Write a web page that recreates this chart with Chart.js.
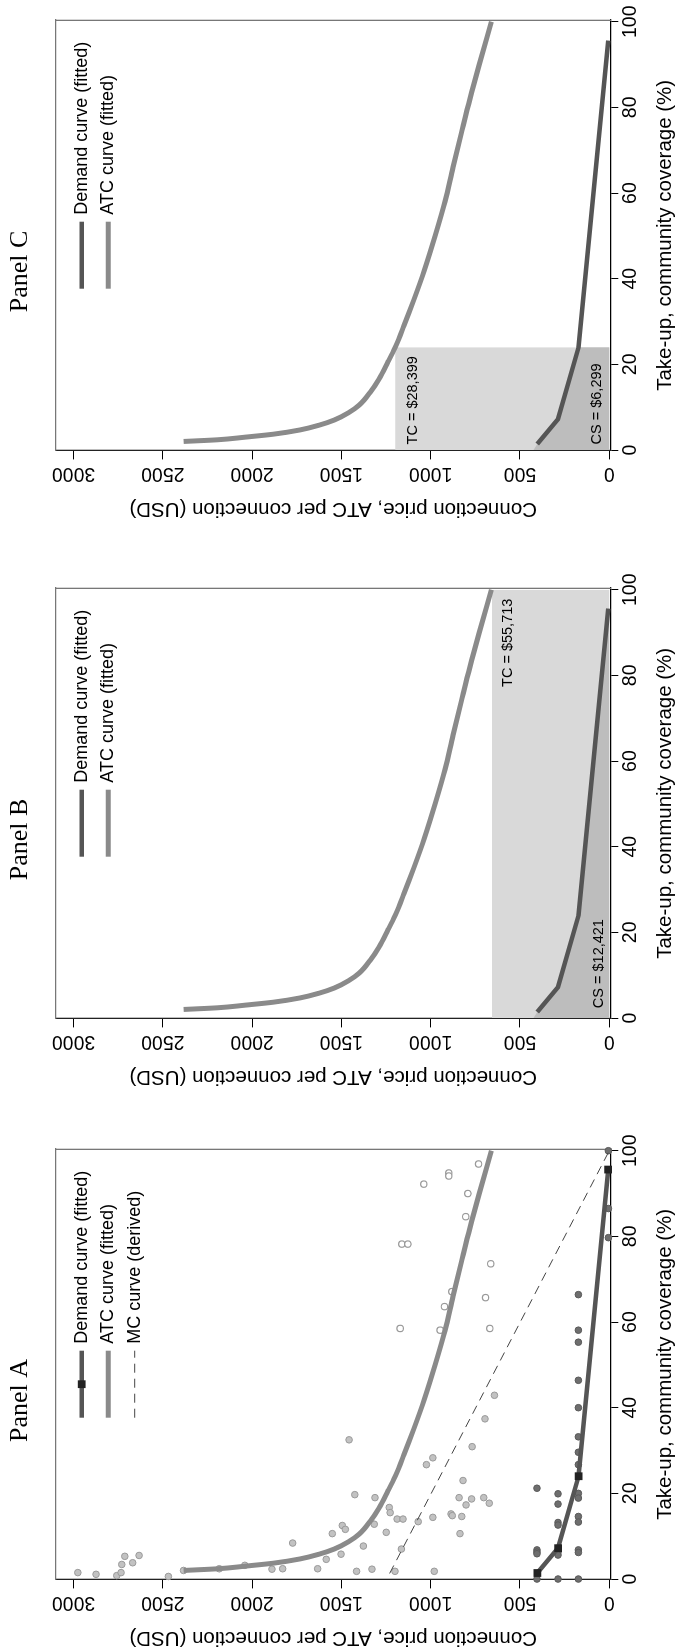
<!DOCTYPE html>
<html>
<head>
<meta charset="utf-8">
<script src="https://cdn.jsdelivr.net/npm/chart.js@4.4.1/dist/chart.umd.min.js"></script>
<style>
  html, body { margin: 0; padding: 0; background: #fff; overflow: hidden; }
  body { width: 676px; height: 1652px; position: relative; }
  /* figure is laid out landscape, then turned a quarter to the left */
  #fig { position: absolute; left: 0; top: 0; width: 1652px; height: 676px;
         transform-origin: 0 0; transform: translateY(1652px) rotate(-90deg); }
  #fig canvas { position: absolute; top: 0; display: block; }
</style>
</head>
<body>
<div id="fig">
  <canvas id="panelA" width="590" height="678" style="left:0px"></canvas>
  <canvas id="panelB" width="590" height="678" style="left:561px"></canvas>
  <canvas id="panelC" width="590" height="678" style="left:1129px"></canvas>
</div>
<script>
/* ---- data ---- */
const takeupTicks = [0, 20, 40, 60, 80, 100];
const priceTicks = [0, 500, 1000, 1500, 2000, 2500, 3000];
const takeupMin = -0.16, takeupMax = 100.4;
const priceMin = -8, priceMax = 3100;

// fitted ATC curve
const atcTakeup = [2.0, 2.4, 3.0, 3.7, 4.7, 5.8, 7.0, 8.7, 10.5, 13.4, 16.5, 20.5, 24, 29, 35, 42, 50, 58, 66, 74, 82, 90, 100];
const atcPrice  = [2384, 2190, 2040, 1880, 1731, 1625, 1540, 1460, 1400, 1340, 1290, 1240, 1199, 1150, 1095, 1035, 975, 920, 875, 828, 780, 728, 660];

// fitted demand curve
const demandTakeup = [1.4, 7.2, 24.0, 95.6];
const demandPrice  = [403, 287, 172, 6];

// derived MC curve
const mcTakeup = [1.3, 100];
const mcPrice  = [1230, 0];

// observed ATC (filled markers)
const atcObsTakeup = [1.5, 1.1, 0.8, 1.5, 3.4, 5.3, 3.8, 5.5, 0.6, 2.0, 2.4, 3.2, 2.3, 2.4, 8.4, 2.4, 4.6, 10.6, 5.8, 12.5,
  11.6, 32.5, 19.7, 1.8, 7.7, 2.3, 12.8, 19.0, 10.9, 16.7, 15.5, 1.8, 14.0, 7.0, 14.0, 13.4, 26.7, 28.3, 14.4, 1.8,
  15.2, 14.8, 19.0, 10.6, 14.6, 23.0, 17.3, 18.7, 30.9, 19.0, 37.4, 17.7, 42.9];
const atcObsPrice = [2976, 2874, 2758, 2734, 2730, 2713, 2669, 2633, 2469, 2384, 2184, 2041, 1889, 1829, 1773, 1633, 1585, 1551, 1502, 1495,
  1478, 1457, 1425, 1415, 1377, 1329, 1316, 1312, 1249, 1232, 1227, 1200, 1188, 1164, 1155, 1070, 1024, 988, 988, 980,
  886, 879, 841, 836, 826, 819, 802, 771, 768, 703, 696, 672, 643];

// observed ATC (hollow markers)
const atcHollowTakeup = [96.9, 94.8, 94.1, 92.2, 90.0, 84.6, 78.2, 78.2, 73.6, 67.1, 65.7, 63.6, 58.5, 58.1, 58.5];
const atcHollowPrice  = [732, 899, 899, 1039, 792, 804, 1162, 1128, 664, 882, 693, 923, 1171, 947, 669];

// observed demand
const demandObsTakeup = [21.2, 6.8, 6.3, 5.9, 0,
  19.9, 17.5, 13.2, 12.6, 6.3, 5.6, 0,
  66.4, 58.1, 55.3, 46.4, 40.0, 33.2, 29.6, 26.7, 20.0, 18.9, 14.6, 13.3, 6.8, 6.2, 0,
  100, 86.5, 79.7];
const demandObsPrice = [405, 405, 405, 405, 405,
  287, 287, 287, 287, 287, 287, 287,
  173, 173, 173, 173, 173, 173, 173, 173, 173, 173, 173, 173, 173, 173, 173,
  5, 5, 5];

// shaded areas
const tcTakeupB = [0, 100], tcPriceB = [657, 657];
const csTakeupB = [0, 1.4, 7.2, 24.0, 95.6], csPriceB = [425, 403, 287, 172, 6];
const tcTakeupC = [0, 24.0], tcPriceC = [1199, 1199];
const csTakeupC = [0, 1.4, 7.2, 24.0], csPriceC = [425, 403, 287, 172];

// area labels
const noteTextB = ['TC = $55,713', 'CS = $12,421'];
const noteTakeupB = [77.3, 2.3], notePriceB = [565, 60];
const noteTextC = ['TC = $28,399', 'CS = $6,299'];
const noteTakeupC = [1.3, 1.3], notePriceC = [1099, 70];

/* ---- styling ---- */
const SANS = "'Liberation Sans', Arial, sans-serif";
const SERIF = "'Liberation Serif', 'Times New Roman', serif";
Chart.defaults.font.family = SANS;
Chart.defaults.color = '#000';

const pts = (xs, ys) => xs.map((x, i) => ({ x: x, y: ys[i] }));
const ds = (type, data, extra) => Object.assign({ type: type, data: data, xAxisID: 'x', yAxisID: 'y' }, extra);

function buildScales() {
  return {
    x: {
      type: 'linear', position: 'bottom', min: takeupMin, max: takeupMax,
      afterBuildTicks: s => { s.ticks = takeupTicks.map(v => ({ value: v })); },
      afterFit: s => { s.height = 67.3; },
      grid: { drawOnChartArea: false, tickLength: 7.6, tickColor: '#000', tickWidth: 1 },
      border: { color: '#000', width: 1.3 },
      ticks: { color: '#000', font: { size: 19.5 }, padding: 1, maxRotation: 0, autoSkip: false,
               callback: v => String(v) },
      title: { display: true, text: 'Take-up, community coverage (%)', color: '#000',
               font: { size: 20.5 }, padding: { top: 0, bottom: 0 } }
    },
    y: {
      type: 'linear', position: 'left', min: priceMin, max: priceMax,
      afterBuildTicks: s => { s.ticks = priceTicks.map(v => ({ value: v })); },
      afterFit: s => { s.width = 72.3; },
      grid: { drawOnChartArea: false, tickLength: 8.7, tickColor: '#000', tickWidth: 1 },
      border: { color: '#222', width: 1.3 },
      ticks: { color: '#000', font: { size: 19.5 }, minRotation: 90, maxRotation: 90,
               crossAlign: 'center', padding: -7.4, autoSkip: false,
               callback: v => String(v) },
      title: { display: true, text: 'Connection price, ATC per connection (USD)', color: '#000',
               font: { size: 20.5 }, padding: { top: 2.2, bottom: 0 } }
    },
    // plain frame lines on the two other sides
    x2: { type: 'linear', position: 'top', ticks: { display: false },
          grid: { drawOnChartArea: false, drawTicks: false },
          border: { color: '#777', width: 1.3 }, afterFit: s => { s.height = 0; } },
    y2: { type: 'linear', position: 'right', ticks: { display: false },
          grid: { drawOnChartArea: false, drawTicks: false },
          border: { color: '#777', width: 1.3 }, afterFit: s => { s.width = 0; } }
  };
}

const demandCurve = (markers) => ds('line', pts(demandTakeup, demandPrice), {
  label: 'Demand curve (fitted)', borderColor: '#555', borderWidth: 4.5, tension: 0,
  pointStyle: 'rect', pointRadius: markers ? 5.5 : 0, pointBackgroundColor: '#222',
  pointBorderColor: '#222', pointBorderWidth: 0, fill: false, clip: 8, order: 1
});
const atcCurve = () => ds('line', pts(atcTakeup, atcPrice), {
  label: 'ATC curve (fitted)', borderColor: '#8a8a8a', borderWidth: 5, pointRadius: 0,
  cubicInterpolationMode: 'monotone', fill: false, order: 2
});
const shade = (xs, ys, color, order) => ds('line', pts(xs, ys), {
  borderColor: 'rgba(0,0,0,0)', borderWidth: 1, pointRadius: 0, tension: 0,
  fill: 'origin', backgroundColor: color, order: order
});

/* ---- plugins: in-plot legend and area labels ---- */
const panelLegend = {
  id: 'panelLegend',
  afterDraw(chart, args, opts) {
    const labels = opts.labels || [];
    const { ctx, chartArea } = chart;
    ctx.save();
    ctx.font = opts.fontSize + 'px ' + SANS;
    ctx.textBaseline = 'middle';
    ctx.textAlign = 'left';
    labels.forEach((label, i) => {
      const d = chart.data.datasets.find(s => s.label === label);
      if (!d) return;
      const y = chartArea.top + opts.firstRow + i * opts.rowGap;
      const x0 = chartArea.left + opts.symbolStart;
      const x1 = chartArea.left + opts.symbolEnd;
      ctx.strokeStyle = d.borderColor;
      ctx.lineWidth = d.borderWidth;
      ctx.setLineDash(d.borderDash || []);
      ctx.beginPath(); ctx.moveTo(x0, y); ctx.lineTo(x1, y); ctx.stroke();
      ctx.setLineDash([]);
      if (d.pointRadius > 0) {
        ctx.fillStyle = d.pointBackgroundColor;
        Chart.helpers.drawPoint(ctx, { pointStyle: d.pointStyle, radius: d.pointRadius, borderWidth: 0 }, (x0 + x1) / 2, y);
      }
      ctx.fillStyle = '#000';
      ctx.fillText(label, chartArea.left + opts.textStart, y);
    });
    ctx.restore();
  }
};

const panelNotes = {
  id: 'panelNotes',
  afterDatasetsDraw(chart, args, opts) {
    const items = opts.items || [];
    const { ctx, scales } = chart;
    ctx.save();
    ctx.font = '14.5px ' + SANS;
    ctx.fillStyle = '#000';
    ctx.textBaseline = 'middle';
    ctx.textAlign = 'left';
    items.forEach(n => {
      ctx.fillText(n.text, scales.x.getPixelForValue(n.takeup), scales.y.getPixelForValue(n.price));
    });
    ctx.restore();
  }
};

function makePanel(id, title, datasets, legendLabels, notes) {
  return new Chart(document.getElementById(id), {
    type: 'scatter',
    data: { datasets: datasets },
    options: {
      responsive: false, animation: false, devicePixelRatio: 1, events: [],
      layout: { padding: { top: 0, left: 0, right: 87, bottom: 0 } },
      scales: buildScales(),
      plugins: {
        legend: { display: false },
        tooltip: { enabled: false },
        title: { display: true, text: title, color: '#000', align: 'center', fullSize: true,
                 font: { family: SERIF, size: 26, weight: 'normal' }, padding: { top: 5, bottom: 19.5 } },
        panelLegend: { labels: legendLabels, fontSize: 18, firstRow: 26, rowGap: 26.5,
                       symbolStart: 162, symbolEnd: 229, textStart: 236 },
        panelNotes: { items: notes }
      }
    },
    plugins: [panelLegend, panelNotes]
  });
}

const notes = (texts, xs, ys) => texts.map((t, i) => ({ text: t, takeup: xs[i], price: ys[i] }));

// Panel A: data and fitted curves
makePanel('panelA', 'Panel A', [
  ds('scatter', pts(atcHollowTakeup, atcHollowPrice), { pointRadius: 3.2, borderWidth: 1.2,
     backgroundColor: '#fff', borderColor: '#9a9a9a', clip: 8, order: 7 }),
  ds('scatter', pts(atcObsTakeup, atcObsPrice), { pointRadius: 3.3, borderWidth: 1,
     backgroundColor: '#c2c2c2', borderColor: '#9a9a9a', clip: 8, order: 6 }),
  ds('scatter', pts(demandObsTakeup, demandObsPrice), { pointRadius: 3.3, borderWidth: 1,
     backgroundColor: '#6e6e6e', borderColor: '#5a5a5a', clip: 8, order: 5 }),
  ds('line', pts(mcTakeup, mcPrice), { label: 'MC curve (derived)', borderColor: '#444', borderWidth: 1,
     borderDash: [9, 6], pointRadius: 0, fill: false, order: 4 }),
  atcCurve(),
  demandCurve(true)
], ['Demand curve (fitted)', 'ATC curve (fitted)', 'MC curve (derived)'], []);

// Panel B: whole-community coverage
makePanel('panelB', 'Panel B', [
  shade(tcTakeupB, tcPriceB, '#d9d9d9', 10),
  shade(csTakeupB, csPriceB, '#bdbdbd', 9),
  atcCurve(),
  demandCurve(false)
], ['Demand curve (fitted)', 'ATC curve (fitted)'], notes(noteTextB, noteTakeupB, notePriceB));

// Panel C: partial coverage
makePanel('panelC', 'Panel C', [
  shade(tcTakeupC, tcPriceC, '#d9d9d9', 10),
  shade(csTakeupC, csPriceC, '#bdbdbd', 9),
  atcCurve(),
  demandCurve(false)
], ['Demand curve (fitted)', 'ATC curve (fitted)'], notes(noteTextC, noteTakeupC, notePriceC));
</script>
</body>
</html>
